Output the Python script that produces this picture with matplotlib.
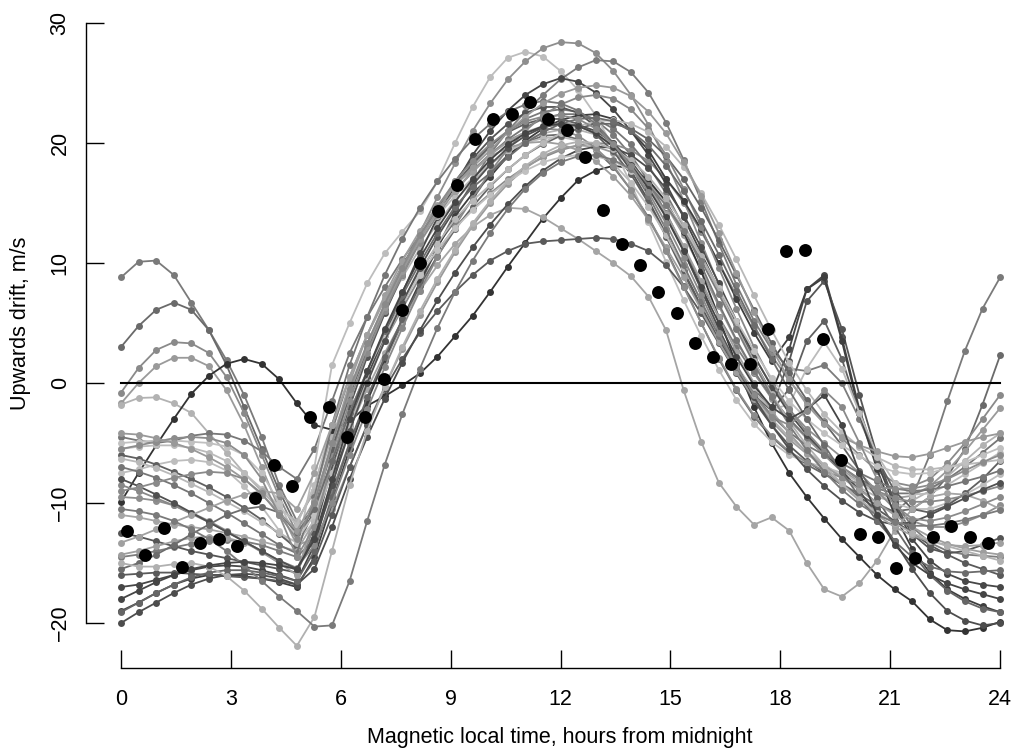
import numpy as np
import matplotlib
matplotlib.use("Agg")
from matplotlib import pyplot as plt

plt.rcParams['font.family'] = ['Liberation Sans', 'DejaVu Sans']

# model curves are sampled every 0.48 h, observed means every 0.5 h
hours = np.linspace(0, 24, 51)
obs_hours = np.arange(48) * 0.5 + 1 / 6
obs_drift = [-12.3, -14.3, -12.1, -15.3, -13.3, -13.0, -13.6, -9.6, -6.8, -8.6,
             -2.8, -2.0, -4.5, -2.8, 0.3, 6.1, 10.0, 14.3, 16.5, 20.3,
             22.0, 22.4, 23.4, 22.0, 21.1, 18.8, 14.4, 11.6, 9.8, 7.6,
             5.8, 3.3, 2.2, 1.6, 1.6, 4.5, 11.0, 11.1, 3.7, -6.4,
             -12.6, -12.8, -15.4, -14.6, -12.8, -11.9, -12.8, -13.3]

c01 = [8.8, 10.1, 10.2, 9.0, 6.7, 4.4, 1.9, -1.0, -4.5, -8.5, -11.5,
       -9.0, -4.0, 0.5, 4.0, 7.0, 9.8, 12.3, 14.5, 16.5, 18.2,
       19.7, 21.0, 22.0, 22.6, 22.8, 22.6, 21.9, 20.7, 19.0, 16.8,
       14.2, 11.3, 8.3, 5.5, 3.0, 0.8, -1.2, -3.0, -4.6, -6.0,
       -7.4, -8.8, -10.0, -10.8, -9.5, -6.0, -1.5, 2.7, 6.2, 8.8]
c02 = [3.0, 4.75, 6.1, 6.7, 6.1, 4.4, 1.5, -2.0, -5.5, -9.0, -12.0,
       -10.5, -6.5, -2.5, 1.0, 4.0, 6.8, 9.3, 11.5, 13.5, 15.3,
       17.5, 19.0, 20.0, 20.6, 20.7, 20.3, 19.4, 18.0, 16.1, 13.8,
       11.1, 8.1, 5.0, 2.0, -0.6, -2.8, -4.5, -5.8, -6.8, -7.6,
       -8.4, -9.3, -10.2, -10.7, -10.5, -9.5, -7.8, -5.5, -1.8, 2.3]
c03 = [-0.8, 1.25, 2.75, 3.4, 3.3, 2.5, 0.5, -2.5, -6.0, -9.5, -12.5,
       -11.0, -7.0, -3.0, 0.5, 3.5, 6.2, 8.8, 11.0, 13.0, 14.5,
       15.8, 17.0, 18.0, 18.8, 19.4, 19.8, 20.0, 19.9, 19.4, 18.5,
       17.0, 15.0, 12.6, 10.0, 7.3, 4.7, 2.3, 0.2, -1.6, -3.2,
       -4.6, -6.0, -7.3, -8.3, -8.6, -8.0, -6.7, -5.0, -3.0, -1.0]
c04 = [-1.7, 0.0, 1.4, 2.1, 2.1, 1.4, -0.6, -3.5, -7.0, -10.5, -13.5,
       -13.0, -10.5, -7.0, -3.5, -0.3, 2.8, 5.7, 8.4, 10.9, 13.1,
       15.0, 16.6, 17.9, 18.9, 19.5, 19.8, 19.7, 19.2, 18.2, 16.8,
       14.8, 12.3, 9.4, 6.4, 3.5, 0.9, -1.3, -3.1, -4.6, -6.0,
       -7.2, -8.3, -9.2, -9.6, -9.4, -8.6, -7.3, -5.7, -3.9, -2.1]
c05 = [-1.8, -1.25, -1.2, -1.7, -2.5, -4.2, -5.8, -7.5, -9.0, -10.5, -11.5,
       -9.0, -4.5, -0.5, 3.0, 6.0, 8.8, 11.2, 13.3, 15.2, 16.8,
       18.2, 19.3, 20.2, 20.8, 21.1, 21.1, 20.7, 19.8, 18.4, 16.5,
       14.0, 11.0, 7.8, 4.5, 1.5, -1.0, -3.0, -4.5, -5.7, -6.8,
       -7.8, -8.7, -9.5, -9.9, -9.8, -9.0, -7.8, -6.5, -5.2, -4.2]
c06 = [-9.9, -7.5, -5.2, -3.0, -0.9, 0.6, 1.6, 2.0, 1.6, 0.3, -1.7,
       -3.5, -3.9, -3.2, -1.9, -1.1, -0.2, 0.8, 2.2, 3.9, 5.6,
       7.6, 9.7, 11.7, 13.7, 15.4, 16.9, 17.7, 18.1, 17.9, 16.9,
       15.1, 12.6, 9.3, 5.5, 1.5, -2.0, -5.0, -7.5, -9.5, -11.3,
       -13.0, -14.5, -16.0, -17.2, -18.2, -19.7, -20.6, -20.7, -20.4, -19.9]
c07 = [-4.5, -4.8, -5.0, -4.8, -4.4, -4.2, -4.3, -4.8, -5.7, -7.0, -8.0,
       -5.5, -1.5, 2.5, 5.5, 8.0, 10.3, 12.3, 14.2, 16.0, 17.6,
       19.0, 20.3, 21.3, 22.0, 22.4, 22.4, 22.0, 21.2, 19.9, 18.1,
       15.8, 13.0, 9.8, 6.6, 3.6, 1.0, -1.2, -3.0, -4.5, -5.8,
       -7.0, -8.0, -8.8, -9.2, -9.2, -8.8, -8.0, -7.0, -5.8, -4.6]
c08 = [-7.5, -7.2, -6.8, -6.5, -6.4, -6.6, -7.3, -8.6, -10.3, -12.3, -14.0,
       -7.0, 1.5, 5.0, 8.3, 10.8, 12.6, 14.3, 16.8, 20.0, 23.0,
       25.5, 27.1, 27.6, 27.2, 26.0, 24.4, 22.3, 19.6, 16.6, 13.4,
       10.1, 6.9, 3.9, 1.1, -1.4, -3.4, -4.9, -6.0, -6.6, -7.0,
       -7.5, -8.3, -9.2, -10.0, -10.5, -10.5, -10.0, -9.3, -8.5, -7.6]
c09 = [-9.5, -9.6, -9.8, -10.2, -10.8, -11.5, -12.3, -13.2, -14.1, -15.0, -15.6,
       -12.0, -6.0, -1.0, 3.0, 6.5, 9.5, 12.5, 15.5, 18.3, 21.0,
       23.3, 25.3, 26.8, 27.9, 28.4, 28.3, 27.5, 26.0, 24.0, 21.5,
       18.5, 15.2, 11.7, 8.2, 5.0, 2.2, -0.2, -2.2, -3.8, -5.0,
       -6.2, -7.5, -9.0, -10.5, -11.5, -12.0, -12.0, -11.6, -11.0, -10.2]
c10 = [-14.5, -14.3, -14.0, -13.7, -13.4, -13.2, -13.1, -13.2, -13.5, -14.0, -14.5,
       -13.0, -9.0, -5.0, -1.5, 1.8, 5.0, 8.2, 11.3, 14.2, 16.8,
       19.1, 21.0, 22.6, 24.0, 25.3, 26.3, 26.9, 26.8, 25.9, 24.2,
       21.7, 18.6, 15.2, 11.6, 8.2, 5.2, 2.8, 1.2, 1.0, 1.5,
       0.0, -3.0, -6.5, -9.8, -12.0, -13.3, -14.0, -14.3, -14.4, -14.5]
c11 = [-17.0, -16.8, -16.4, -16.0, -15.6, -15.3, -15.2, -15.3, -15.6, -16.0, -16.5,
       -13.5, -8.5, -3.5, 0.5, 4.0, 7.5, 10.8, 13.8, 16.5, 19.0,
       21.0, 22.7, 24.0, 24.9, 25.4, 25.1, 24.2, 22.8, 21.0, 19.0,
       16.6, 13.8, 10.8, 7.8, 5.0, 1.8, -0.8, 2.8, 7.8, 9.0,
       3.8, -2.2, -6.6, -10.2, -13.0, -14.8, -15.9, -16.5, -16.8, -17.0]
c12 = [-12.5, -12.8, -13.2, -13.6, -14.0, -14.3, -14.6, -14.9, -15.2, -15.5, -15.8,
       -12.5, -7.0, -2.0, 2.2, 5.8, 9.0, 11.9, 14.5, 16.8, 18.7,
       20.3, 21.6, 22.5, 23.0, 23.0, 22.5, 21.4, 19.8, 17.7, 15.2,
       12.4, 9.4, 6.4, 3.6, 1.3, -0.6, -2.0, 1.8, 6.8, 8.5,
       4.5, -1.0, -6.0, -10.0, -12.6, -13.8, -14.2, -14.0, -13.5, -12.9]
c13 = [-19.0, -18.3, -17.5, -16.8, -16.3, -16.0, -16.0, -16.1, -16.3, -16.6, -17.0,
       -14.5, -10.0, -5.5, -1.5, 2.0, 5.3, 8.4, 11.3, 13.9, 15.8,
       17.2, 18.9, 20.2, 21.2, 21.9, 22.3, 22.4, 22.0, 21.0, 19.4,
       17.0, 15.2, 12.8, 10.0, 7.0, 4.2, 1.8, 3.8, 7.8, 8.8,
       3.5, -2.5, -7.2, -11.0, -13.8, -15.8, -17.2, -18.0, -18.6, -19.1]
c14 = [-6.0, -6.3, -6.8, -7.4, -8.0, -8.7, -9.5, -10.4, -11.4, -12.6, -13.8,
       -10.5, -5.5, -1.0, 2.8, 6.2, 9.3, 12.0, 14.4, 16.5, 18.3,
       19.8, 20.9, 21.6, 22.0, 22.0, 21.6, 20.7, 19.3, 17.4, 15.0,
       12.2, 9.2, 6.2, 3.4, 1.0, -1.0, -2.3, -0.5, 3.5, 5.2,
       2.0, -2.5, -6.3, -9.0, -10.5, -10.8, -10.2, -9.2, -8.0, -6.5]
c15 = [-5.5, -5.3, -5.2, -5.2, -5.4, -5.8, -6.5, -7.5, -8.8, -10.3, -11.8,
       -8.5, -3.5, 0.5, 4.0, 7.0, 9.6, 11.9, 13.9, 15.6, 17.1,
       18.3, 19.3, 20.0, 20.4, 20.5, 20.2, 19.5, 18.3, 16.7, 14.7,
       12.3, 9.6, 6.8, 4.0, 1.5, -0.7, -2.2, -1.8, 1.2, 3.4,
       1.2, -2.5, -6.0, -8.3, -9.3, -9.2, -8.5, -7.6, -6.7, -5.8]
c16 = [-11.0, -11.2, -11.5, -11.8, -12.0, -12.2, -12.5, -12.8, -13.2, -13.6, -14.0,
       -11.5, -7.5, -3.8, -0.5, 2.5, 5.2, 7.7, 9.8, 11.6, 13.0,
       14.0, 14.6, 14.5, 13.8, 12.9, 12.0, 11.0, 10.0, 8.9, 7.2,
       4.4, -0.6, -4.9, -8.3, -10.3, -11.8, -11.2, -12.3, -15.0, -17.2,
       -17.8, -16.7, -14.8, -12.3, -10.5, -9.5, -9.2, -9.3, -9.8, -10.5]
c17 = [-16.0, -15.9, -15.8, -15.8, -15.9, -16.0, -16.1, -16.2, -16.3, -16.5, -16.8,
       -14.8, -11.0, -7.0, -3.5, -0.5, 2.0, 4.2, 6.0, 7.6, 9.0,
       10.2, 11.0, 11.6, 11.8, 11.9, 12.0, 12.1, 12.0, 11.6, 11.0,
       9.8, 8.0, 5.8, 3.3, 0.8, -1.5, -3.5, -5.2, -6.5, -7.5,
       -8.5, -9.5, -10.5, -11.5, -12.5, -13.5, -14.3, -15.0, -15.5, -16.0]
c18 = [-20.0, -19.1, -18.3, -17.5, -16.8, -16.3, -16.0, -15.9, -16.0, -16.3, -16.8,
       -15.5, -12.0, -8.0, -4.5, -1.3, 1.7, 4.4, 6.9, 9.2, 11.3,
       13.2, 14.9, 16.4, 17.7, 18.7, 19.4, 19.7, 19.6, 19.0, 17.9,
       16.2, 14.0, 11.3, 8.3, 5.2, 2.3, -0.3, -2.5, -4.3, -5.8,
       -7.3, -9.0, -11.0, -13.2, -15.5, -17.5, -19.0, -19.8, -20.2, -20.0]
c19 = [-19.1, -18.3, -17.5, -16.8, -16.2, -15.8, -15.6, -15.6, -15.8, -16.1, -16.5,
       -14.0, -9.5, -5.0, -1.2, 2.2, 5.3, 8.1, 10.6, 12.8, 14.7,
       16.4, 17.8, 19.0, 19.9, 20.6, 21.2, 21.6, 21.6, 21.2, 20.3,
       18.9, 17.0, 14.6, 11.9, 9.0, 6.1, 3.3, 0.8, -1.4, -3.3,
       -5.2, -7.3, -9.6, -12.0, -14.2, -16.0, -17.3, -18.2, -18.8, -19.1]
c20 = [-14.3, -14.0, -13.6, -13.2, -12.9, -12.8, -12.9, -13.3, -14.0, -15.0, -16.0,
       -11.0, -5.0, 0.0, 4.0, 7.3, 10.2, 12.7, 14.8, 16.5, 17.8,
       18.9, 19.6, 20.0, 20.1, 19.9, 19.4, 18.5, 17.2, 15.6, 13.6,
       11.3, 8.8, 6.1, 3.4, 0.9, -1.3, -3.2, -4.7, -5.9, -6.9,
       -7.9, -8.9, -10.0, -11.0, -12.0, -12.8, -13.4, -13.8, -14.1, -14.3]
c21 = [-8.5, -9.0, -9.6, -10.2, -10.9, -11.6, -12.4, -13.2, -14.0, -14.8, -15.4,
       -13.5, -10.0, -6.0, -2.2, 1.3, 4.6, 7.7, 10.5, 13.1, 15.4,
       17.6, 19.5, 21.0, 22.3, 23.2, 23.8, 24.0, 23.7, 22.8, 21.2,
       19.0, 16.2, 13.0, 9.6, 6.2, 3.0, 0.2, -2.2, -4.1, -5.7,
       -7.0, -8.1, -9.0, -9.6, -9.9, -9.9, -9.7, -9.4, -9.0, -8.6]
c22 = [-6.3, -6.6, -7.1, -7.7, -8.4, -9.1, -9.9, -10.7, -11.6, -12.5, -13.3,
       -11.5, -7.5, -3.5, 0.2, 3.5, 6.5, 9.2, 11.6, 13.7, 15.2,
       16.5, 17.8, 19.0, 20.0, 20.8, 21.4, 21.8, 21.9, 21.6, 20.9,
       19.7, 18.0, 15.8, 13.2, 10.3, 7.3, 4.4, 1.7, -0.6, -2.6,
       -4.1, -5.3, -6.2, -6.9, -7.2, -7.2, -7.0, -6.8, -6.6, -6.4]
c23 = [-7.0, -7.4, -7.9, -8.5, -9.2, -10.0, -10.8, -11.7, -12.6, -13.5, -14.2,
       -9.5, -3.5, 1.5, 5.5, 9.0, 12.0, 14.6, 16.8, 18.7, 20.3,
       21.6, 22.6, 23.2, 23.5, 23.3, 22.7, 21.6, 20.0, 18.0, 15.6,
       12.8, 9.8, 6.8, 3.9, 1.3, -0.9, -2.7, -4.1, -5.2, -6.0,
       -6.7, -7.5, -8.2, -8.8, -9.0, -8.9, -8.6, -8.2, -7.8, -7.3]
c24 = [-5.0, -4.9, -4.8, -4.8, -4.9, -5.0, -5.3, -6.0, -7.5, -10.0, -13.0,
       -11.0, -6.5, -2.5, 1.0, 4.0, 6.7, 9.0, 11.1, 12.9, 14.4,
       15.7, 16.8, 17.7, 18.4, 18.8, 19.0, 18.9, 18.5, 17.7, 16.5,
       14.9, 12.9, 10.5, 7.9, 5.2, 2.7, 0.4, -1.5, -3.0, -4.2,
       -5.2, -6.1, -6.9, -7.4, -7.6, -7.5, -7.1, -6.6, -6.0, -5.4]
c25 = [-5.5, -5.2, -4.9, -4.6, -4.5, -4.6, -5.0, -6.0, -8.0, -11.0, -14.5,
       -12.0, -6.5, -1.5, 2.5, 6.0, 9.0, 11.7, 14.0, 16.0, 17.7,
       19.1, 20.2, 20.9, 21.2, 21.1, 20.6, 19.6, 18.1, 16.1, 13.7,
       11.0, 8.0, 5.0, 2.1, -0.5, -2.7, -4.4, -5.7, -6.6, -7.3,
       -7.9, -8.4, -8.7, -8.8, -8.8, -8.5, -8.0, -7.3, -6.6, -6.0]
c26 = [-8.0, -8.6, -9.3, -10.0, -10.8, -11.6, -12.4, -13.2, -14.0, -14.8, -15.5,
       -13.0, -8.5, -4.0, 0.0, 3.5, 6.7, 9.6, 12.2, 14.5, 16.5,
       18.2, 19.6, 20.6, 21.3, 21.6, 21.5, 21.0, 20.0, 18.5, 16.5,
       14.0, 11.0, 7.8, 4.5, 1.5, -1.2, -3.5, -5.5, -7.2, -8.6,
       -9.8, -10.8, -11.5, -11.8, -11.6, -11.0, -10.3, -9.6, -8.9, -8.3]
c27 = [-13.3, -12.8, -12.2, -11.6, -11.0, -10.4, -9.8, -9.3, -9.0, -9.2, -10.5,
       -7.5, -3.5, 0.5, 4.0, 7.0, 9.7, 12.1, 14.2, 16.0, 17.6,
       19.0, 20.1, 20.9, 21.4, 21.6, 21.4, 20.8, 19.8, 18.3, 16.4,
       14.1, 11.4, 8.5, 5.5, 2.6, 0.0, -2.3, -4.2, -5.8, -7.2,
       -8.5, -9.8, -11.0, -12.0, -12.7, -13.2, -13.5, -13.6, -13.5, -13.3]
c28 = [-15.5, -15.0, -14.3, -13.5, -12.6, -11.8, -11.0, -10.5, -10.3, -10.8, -12.5,
       -10.5, -6.5, -2.5, 1.0, 4.3, 7.3, 10.0, 12.5, 14.7, 16.3,
       17.5, 18.8, 20.0, 20.9, 21.6, 22.0, 22.1, 21.8, 21.0, 19.8,
       18.1, 16.0, 13.5, 10.7, 7.7, 4.8, 2.0, -0.6, -3.0, -5.2,
       -7.4, -9.5, -11.5, -13.2, -14.5, -15.3, -15.7, -15.8, -15.7, -15.6]
c29 = [-15.0, -15.3, -15.3, -15.1, -15.0, -15.3, -16.1, -17.3, -18.8, -20.4, -21.9,
       -19.5, -14.0, -8.5, -4.0, -0.3, 3.0, 6.0, 8.7, 11.1, 13.3,
       15.2, 16.8, 18.1, 19.1, 19.8, 20.1, 20.0, 19.5, 18.6, 17.2,
       15.4, 13.2, 10.6, 7.7, 4.7, 1.8, -0.9, -3.2, -5.2, -6.9,
       -8.4, -9.7, -10.8, -11.7, -12.5, -13.1, -13.6, -14.0, -14.4, -14.8]
c30 = [-10.5, -10.7, -11.0, -11.5, -12.2, -13.0, -14.0, -15.2, -16.5, -17.8, -19.0,
       -20.3, -20.2, -16.5, -11.5, -6.8, -2.6, 1.2, 4.6, 7.6, 10.2,
       12.5, 14.5, 16.2, 17.5, 18.4, 18.9, 19.0, 18.6, 17.8, 16.5,
       14.8, 12.7, 10.2, 7.4, 4.5, 1.6, -1.1, -3.5, -5.6, -7.4,
       -8.9, -10.1, -11.0, -11.6, -11.9, -11.9, -11.7, -11.4, -11.0, -10.6]
c31 = [-4.2, -4.3, -4.6, -5.0, -5.5, -6.2, -7.0, -8.0, -9.3, -10.8, -12.3,
       -9.8, -5.0, -0.8, 3.0, 6.3, 9.3, 12.0, 14.4, 16.5, 18.0,
       19.4, 20.9, 22.2, 23.3, 24.1, 24.6, 24.8, 24.6, 23.9, 22.6,
       20.8, 18.4, 15.6, 12.5, 9.2, 5.9, 2.9, 0.3, -1.8, -3.4,
       -4.5, -5.2, -5.7, -6.1, -6.2, -5.9, -5.4, -4.9, -4.5, -4.2]
c32 = [-18.0, -17.3, -16.6, -16.0, -15.5, -15.2, -15.0, -14.9, -15.0, -15.2, -15.5,
       -13.0, -8.0, -3.0, 1.0, 4.5, 7.6, 10.4, 12.9, 15.1, 17.0,
       18.6, 19.9, 20.8, 21.4, 21.6, 21.4, 20.8, 19.7, 18.2, 16.2,
       13.8, 11.0, 8.0, 5.0, 2.2, -0.2, -2.0, -3.0, -2.2, -1.0,
       -3.5, -7.5, -11.0, -13.5, -15.0, -16.0, -16.7, -17.2, -17.6, -18.0]
c33 = [-9.0, -8.7, -8.3, -7.9, -7.6, -7.4, -7.5, -8.0, -9.2, -11.0, -13.0,
       -10.0, -5.0, -0.5, 3.3, 6.6, 9.6, 12.3, 14.7, 16.8, 18.5,
       19.9, 21.0, 21.8, 22.2, 22.3, 22.0, 21.2, 19.9, 18.1, 15.9,
       13.3, 10.4, 7.3, 4.2, 1.4, -1.0, -2.8, -3.5, -2.3, -0.6,
       -2.0, -5.0, -8.0, -10.2, -11.3, -11.5, -11.2, -10.7, -10.1, -9.5]

curves = [c01, c02, c03, c04, c05, c06, c07, c08, c09, c10, c11,
          c12, c13, c14, c15, c16, c17, c18, c19, c20, c21, c22,
          c23, c24, c25, c26, c27, c28, c29, c30, c31, c32, c33]
shades = ['#7a7a7a', '#6a6a6a', '#8a8a8a', '#9a9a9a', '#b2b2b2', '#333333',
          '#777777', '#bdbdbd', '#8e8e8e', '#7c7c7c', '#474747', '#555555',
          '#3e3e3e', '#606060', '#bbbbbb', '#a5a5a5', '#5a5a5a', '#4d4d4d',
          '#666666', '#9e9e9e', '#888888', '#b8b8b8', '#767676', '#c0c0c0',
          '#8c8c8c', '#505050', '#a0a0a0', '#6c6c6c', '#b0b0b0', '#7a7a7a',
          '#999999', '#454545', '#8a8a8a']

W, H = 1019, 755
fig = plt.figure(figsize=(W / 100, H / 100), dpi=100)
ax = fig.add_axes([86 / W, (H - 668) / H, 924 / W, 658 / H])

for vals, col in zip(curves, shades):
    ax.plot(hours, vals, color=col, lw=1.3, marker='o', ms=5.0, mec='none',
            solid_joinstyle='round')

ax.plot([0, 24], [0, 0], color='black', lw=1.5)
ax.plot(obs_hours, obs_drift, 'o', color='black', ms=9.3, mec='none')

ax.set_xlim(-0.956, 24.27)
ax.set_ylim(-23.75, 31.08)
ax.spines['top'].set_visible(False)
ax.spines['right'].set_visible(False)
ax.spines['left'].set_bounds(-20, 30)
ax.spines['bottom'].set_bounds(0, 24)
ax.spines['left'].set_linewidth(1.0)
ax.spines['bottom'].set_linewidth(1.0)
ax.set_xticks(range(0, 25, 3))
ax.set_yticks(range(-20, 31, 10))
ax.tick_params(direction='in', length=13, width=1.0, labelsize=15.5)
ax.tick_params(axis='x', pad=15)
ax.tick_params(axis='y', pad=11)
for lab in ax.get_yticklabels():
    lab.set_rotation(90)
    lab.set_va('center')

fig.text(560 / W, 1 - 737 / H, 'Magnetic local time, hours from midnight',
         ha='center', va='center', fontsize=15.5)
fig.text(21 / W, 1 - 323 / H, 'Upwards drift, m/s', rotation=90,
         ha='center', va='center', fontsize=15.5)

fig.savefig('out.png', dpi=100)
